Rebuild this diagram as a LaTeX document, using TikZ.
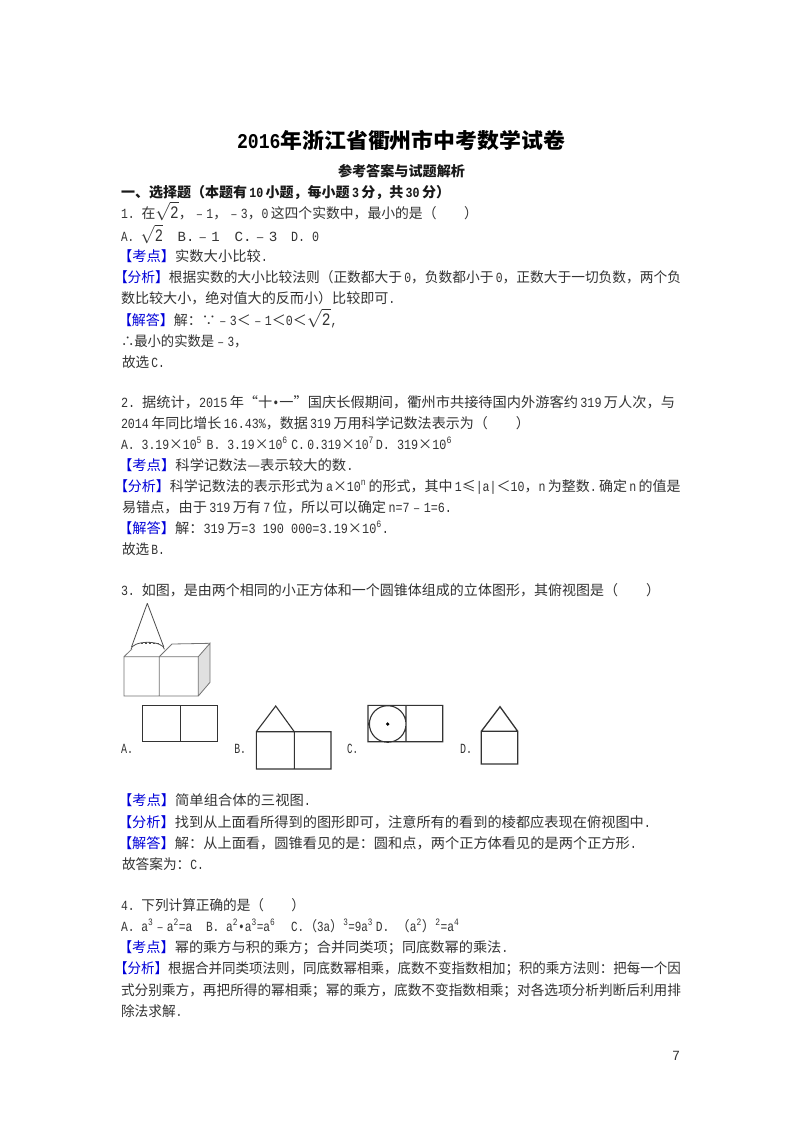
\documentclass[tikz,border=0pt]{standalone}
\usepackage{fontspec}
\usepackage{graphicx}
\setmainfont{Noto Sans CJK SC}
\newfontfamily\lafont[FakeStretch=0.83]{Liberation Mono}
\newcommand{\la}[1]{{\lafont #1}}
\newcommand{\kd}[1]{\textcolor{blue!85!black}{【#1】}}
\newcommand{\rt}{\smash{\scalebox{1.25}{$\sqrt{\hbox{\lafont 2}}$}}}
\newcommand{\su}[1]{\textsuperscript{\lafont #1}}
\definecolor{ink}{gray}{0.2}
\tikzset{
  txt/.style={anchor=base west,inner sep=0pt,outer sep=0pt,text=ink,font=\fontsize{14}{16}\selectfont},
  ttl/.style={txt,text=black,font=\fontsize{21}{24}\selectfont\bfseries},
  hd/.style={txt,text=black!90,font=\fontsize{14}{16}\selectfont\bfseries},
  box/.style={draw=black!80,line width=1.1pt},
  thin3d/.style={draw=black!55,line width=0.8pt}
}
\newcommand{\tline}[6][txt]{\pgfmathsetlengthmacro\tlw{#4-#3}\node[#1] (#2) at (#3,#5) {\resizebox{\tlw}{\height}{#6}};}
\begin{document}
\begin{tikzpicture}[x=1pt,y=-1pt]
\useasboundingbox (0,0) rectangle (800,1132);
\fill[white] (0,0) rectangle (800,1132);
% headings
\tline[ttl]{title}{237}{565}{148.5}{\la{2016}年浙江省衢州市中考数学试卷}
\tline[hd]{sub}{338}{465}{176}{参考答案与试题解析}
\tline[hd]{sec}{121}{450}{197}{一、选择题（本题有\,\la{10}\,小题，每小题\,\la{3}\,分，共\,\la{30}\,分）}
% Q1
\tline{qa}{121}{478}{218}{\la{1.\ }在\rt，﹣\la{1}，﹣\la{3}，\la{0}\,这四个实数中，最小的是（\qquad）}
\tline{qaA}{121}{163}{241}{\la{A.\ }\rt}
\tline{qaB}{177.7}{219.7}{241}{\la{B.}﹣\la{1}}
\tline{qaC}{234.5}{277.3}{241}{\la{C.}﹣\la{3}}
\tline{qaD}{291}{319}{241}{\la{D.\ 0}}
\tline{qak}{118}{268}{261}{\kd{考点}实数大小比较\la{.}}
\tline{qaf}{114}{681}{282}{\kd{分析}根据实数的大小比较法则（正数都大于\,\la{0}，负数都小于\,\la{0}，正数大于一切负数，两个负}
\tline{qag}{121}{395.5}{303}{数比较大小，绝对值大的反而小）比较即可\la{.}}
\tline{qaj}{118}{337.5}{325}{\kd{解答}解：∵﹣\la{3}＜﹣\la{1}＜\la{0}＜\rt\la{,}}
\tline{qas}{121}{247.5}{346}{∴最小的实数是﹣\la{3}，}
\tline{qae}{122}{165}{367}{故选\,\la{C.}}
% Q2
\tline{qb}{121}{675}{407}{\la{2.\ }据统计，\la{2015}\,年“十\la{•}一”国庆长假期间，衢州市共接待国内外游客约\,\la{319}\,万人次，与}
\tline{qbb}{121}{530}{428}{\la{2014}\,年同比增长\,\la{16.43\%}，数据\,\la{319}\,万用科学记数法表示为（\qquad）}
\tline{qbA}{121}{202}{449}{\la{A.\ 3.19}×\la{10}\su{5}}
\tline{qbB}{206.7}{287.7}{449}{\la{B.\ 3.19}×\la{10}\su{6}}
\tline{qbC}{291.4}{374}{449}{\la{C.\,0.319}×\la{10}\su{7}}
\tline{qbD}{375.8}{452}{449}{\la{D.\ 319}×\la{10}\su{6}}
\tline{qbk}{118}{353.5}{470}{\kd{考点}科学记数法—表示较大的数\la{.}}
\tline{qbf}{114}{680.6}{491}{\kd{分析}科学记数法的表示形式为\,\la{a}×\la{10}\su{n}\,的形式，其中\,\la{1}≤\la{|a|}＜\la{10}，\la{n}\,为整数\la{.}\,确定\,\la{n}\,的值是}
\tline{qbg}{122}{452}{512}{易错点，由于\,\la{319}\,万有\,\la{7}\,位，所以可以确定\,\la{n=7}﹣\la{1=6.}}
\tline{qbj}{118}{389}{533}{\kd{解答}解：\la{319}\,万\la{=3\ 190\ 000=3.19}×\la{10}\su{6}\la{.}}
\tline{qbe}{122}{165}{554}{故选\,\la{B.}}
% Q3
\tline{qc}{121}{660}{595}{\la{3.\ }如图，是由两个相同的小正方体和一个圆锥体组成的立体图形，其俯视图是（\qquad）}
% solid figure
\coordinate (fa) at (124,656.7); \coordinate (fb) at (159.3,656.7); \coordinate (fc) at (198.3,656.7);
\coordinate (fd) at (198.3,696); \coordinate (fe) at (124,696); \coordinate (ff) at (159.3,696);
\coordinate (fg) at (210,643.3); \coordinate (fh) at (210,682.3); \coordinate (fi) at (133,648);
\coordinate (fj) at (172,644);
\fill[black!12] (fc) -- (fg) -- (fh) -- (fd) -- cycle;
\draw[thin3d] (fa) rectangle (fd) (fb) -- (ff) (fc) -- (fg) -- (fh) -- (fd);
\draw[thin3d] (fa) -- (fi) (fb) -- (fj) (fj) -- (fg);
\coordinate (ap) at (147.3,603.3);
\fill[white] (131,649.3) arc[start angle=180,end angle=360,x radius=16.7,y radius=7] -- cycle;
\draw[thin3d,black!70] (ap) -- (131.5,647) (ap) -- (163.8,647);
\draw[thin3d,black!70] (131,649.3) arc[start angle=180,end angle=360,x radius=16.7,y radius=7];
\draw[thin3d,black!70,dash pattern=on 2pt off 2pt] (141,643.5) -- (160,643.5);
% options
\tline{lA}{121}{133}{753}{\la{A.}}
\draw[box] (142.3,705.3) rectangle (217.3,741.7) (180.3,705.3) -- (180.3,741.7);
\tline{lB}{234.3}{246}{753}{\la{B.}}
\draw[box] (256.3,731.7) rectangle (331,769) (294.3,731.7) -- (294.3,769) (256.3,731.7) -- (275.7,706) -- (294.3,731.7);
\tline{lC}{347}{358}{753}{\la{C.}}
\draw[box] (368,705.3) rectangle (442.7,741.7) (406,705.3) -- (406,741.7) (387.7,724) circle[radius=18.3];
\fill[black] (387.7,724) circle[radius=1.8];
\tline{lD}{460}{472}{753}{\la{D.}}
\draw[box,line width=1.3pt] (481.3,731.3) rectangle (517.7,764) (481.3,731.3) -- (500,706.7) -- (517.7,731.3);
% after figure
\tline{qck}{118}{311}{805}{\kd{考点}简单组合体的三视图\la{.}}
\tline{qcf}{118}{651}{827}{\kd{分析}找到从上面看所得到的图形即可，注意所有的看到的棱都应表现在俯视图中\la{.}}
\tline{qcj}{118}{637}{848}{\kd{解答}解：从上面看，圆锥看见的是：圆和点，两个正方体看见的是两个正方形\la{.}}
\tline{qce}{122}{204}{869}{故答案为：\la{C.}}
% Q4
\tline{qd}{121}{305}{910}{\la{4.\ }下列计算正确的是（\qquad）}
\tline{qdA}{121}{192.5}{931}{\la{A.\ a}\su{3}﹣\la{a}\su{2}\la{=a}}
\tline{qdB}{206}{275.4}{931}{\la{B.\ a}\su{2}\la{•a}\su{3}\la{=a}\su{6}}
\tline{qdC}{291}{373}{931}{\la{C.}（\la{3a}）\su{3}\la{=9a}\su{3}}
\tline{qdD}{375.8}{459.4}{931}{\la{D.\ }（\la{a}\su{2}）\su{2}\la{=a}\su{4}}
\tline{qdk}{118}{508.5}{952}{\kd{考点}幂的乘方与积的乘方；合并同类项；同底数幂的乘法\la{.}}
\tline{qdf}{114}{681}{973}{\kd{分析}根据合并同类项法则，同底数幂相乘，底数不变指数相加；积的乘方法则：把每一个因}
\tline{qdg}{121}{681}{995}{式分别乘方，再把所得的幂相乘；幂的乘方，底数不变指数相乘；对各选项分析判断后利用排}
\tline{qdh}{121}{182.5}{1016}{除法求解\la{.}}
\tline{pn}{672}{680}{1060}{\la{7}}
\end{tikzpicture}
\end{document}
